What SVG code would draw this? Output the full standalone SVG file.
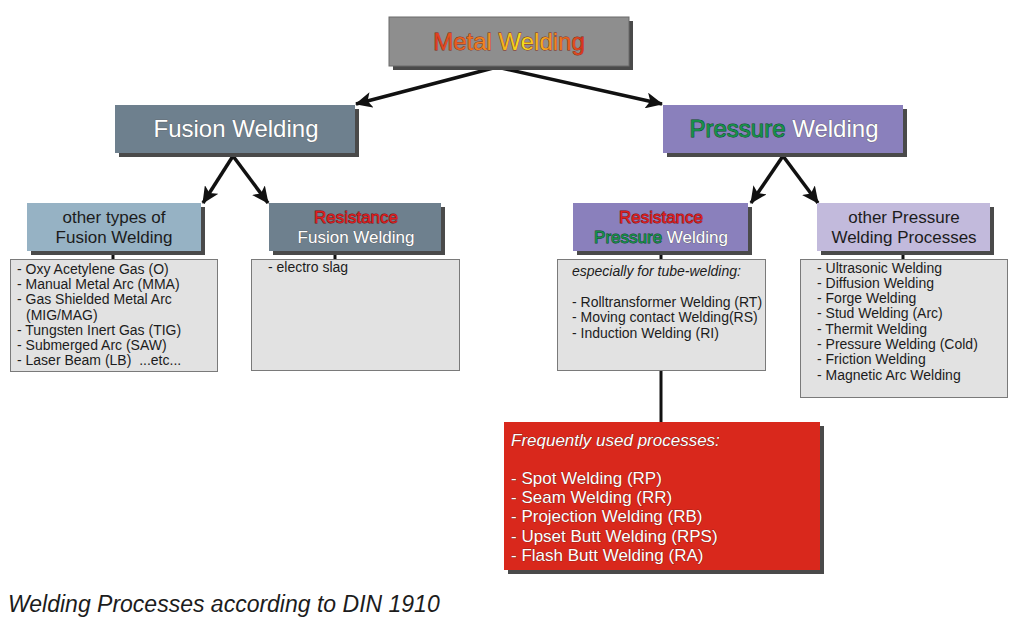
<svg xmlns="http://www.w3.org/2000/svg" width="1024" height="620" viewBox="0 0 1024 620">
<defs>
<linearGradient id="gMetal" x1="434" y1="0" x2="584" y2="0" gradientUnits="userSpaceOnUse">
<stop offset="0" stop-color="#e03a1e"/>
<stop offset="0.35" stop-color="#f08a20"/>
<stop offset="0.58" stop-color="#f4e21a"/>
<stop offset="0.8" stop-color="#f08a20"/>
<stop offset="1" stop-color="#d8301c"/>
</linearGradient>
<marker id="arr" markerUnits="userSpaceOnUse" markerWidth="18" markerHeight="16" refX="16" refY="8" orient="auto">
<path d="M0,0 L17,8 L0,16 L4,8 z" fill="#111"/>
</marker>
<style>
.sh{fill:#4a4a4a}
.hd{font-family:"Liberation Sans",Arial,sans-serif;font-size:24px;text-anchor:middle}
.md{font-family:"Liberation Sans",Arial,sans-serif;font-size:17px;text-anchor:middle}
.wt{fill:#fff;stroke:#5a5a5a;stroke-width:0.7;paint-order:stroke}
.rd{fill:#e01e1e;stroke:#7a1010;stroke-width:0.9;paint-order:stroke}
.gr{fill:#16914a;stroke:#0b4a25;stroke-width:0.9;paint-order:stroke}
.dk{fill:#1c1c1c}
.lb{fill:#e2e2e2;stroke:#7a7a7a;stroke-width:1}
.lt{font-family:"Liberation Sans",Arial,sans-serif;font-size:14px;fill:#1c1c1c}
.rt{font-family:"Liberation Sans",Arial,sans-serif;font-size:17px;fill:#fff;stroke:#6a1a10;stroke-width:0.6;paint-order:stroke}
.cn{stroke:#111;stroke-width:3;fill:none}
.ar{stroke:#111;stroke-width:3.5;fill:none;marker-end:url(#arr)}
</style>
</defs>
<rect width="1024" height="620" fill="#fff"/>

<g id="connectors">
<line class="ar" x1="497" y1="67" x2="356" y2="104"/>
<line class="ar" x1="497" y1="67" x2="662" y2="104"/>
<line class="ar" x1="233" y1="156" x2="203" y2="203"/>
<line class="ar" x1="233" y1="156" x2="268" y2="203"/>
<line class="ar" x1="783" y1="156" x2="751" y2="203"/>
<line class="ar" x1="783" y1="156" x2="818" y2="203"/>
<line class="cn" x1="113" y1="251" x2="113" y2="259"/>
<line class="cn" x1="335" y1="251" x2="335" y2="259"/>
<line class="cn" x1="661" y1="251" x2="661" y2="259"/>
<line class="cn" x1="661" y1="370" x2="661" y2="422"/>
<line class="cn" x1="903" y1="251" x2="903" y2="259"/>
</g>

<g id="metal-welding">
<rect class="sh" x="393" y="21" width="240" height="49"/>
<rect x="389" y="17" width="240" height="49" fill="#8e8e8e" stroke="#6a6a6a" stroke-width="1"/>
<text class="hd" x="509" y="50" fill="url(#gMetal)" stroke="#8a2a10" stroke-width="0.8" paint-order="stroke">Metal Welding</text>
</g>

<g id="fusion-welding">
<rect class="sh" x="119" y="109" width="240" height="48"/>
<rect x="115" y="105" width="240" height="48" fill="#6e808e"/>
<text class="hd wt" x="236" y="137">Fusion Welding</text>
</g>

<g id="pressure-welding">
<rect class="sh" x="667" y="109" width="240" height="48"/>
<rect x="663" y="105" width="240" height="48" fill="#8a80bc"/>
<text class="hd" x="784" y="137"><tspan class="gr">Pressure</tspan><tspan class="wt"> Welding</tspan></text>
</g>

<g id="other-fusion">
<rect class="sh" x="31" y="207" width="174" height="48"/>
<rect x="27" y="203" width="174" height="48" fill="#96b2c4"/>
<text class="md dk" x="114" y="223">other types of</text>
<text class="md dk" x="114" y="243">Fusion Welding</text>
</g>

<g id="resistance-fusion">
<rect class="sh" x="273" y="207" width="172" height="48"/>
<rect x="269" y="203" width="172" height="48" fill="#6e808e"/>
<text class="md rd" x="356" y="223">Resistance</text>
<text class="md wt" x="356" y="243">Fusion Welding</text>
</g>

<g id="resistance-pressure">
<rect class="sh" x="577" y="207" width="175" height="48"/>
<rect x="573" y="203" width="175" height="48" fill="#8a80bc"/>
<text class="md rd" x="661" y="223">Resistance</text>
<text class="md" x="661" y="243"><tspan class="gr">Pressure</tspan><tspan class="wt"> Welding</tspan></text>
</g>

<g id="other-pressure">
<rect class="sh" x="821" y="207" width="173" height="48"/>
<rect x="817" y="203" width="173" height="48" fill="#c2badc"/>
<text class="md dk" x="904" y="223">other Pressure</text>
<text class="md dk" x="904" y="243">Welding Processes</text>
</g>

<g id="list-fusion">
<rect class="lb" x="10.5" y="259.5" width="207" height="112"/>
<text class="lt" x="17" y="274">- Oxy Acetylene Gas (O)</text>
<text class="lt" x="17" y="289.2">- Manual Metal Arc (MMA)</text>
<text class="lt" x="17" y="304.4">- Gas Shielded Metal Arc</text>
<text class="lt" x="26" y="319.6">(MIG/MAG)</text>
<text class="lt" x="17" y="334.8">- Tungsten Inert Gas (TIG)</text>
<text class="lt" x="17" y="350">- Submerged Arc (SAW)</text>
<text class="lt" x="17" y="365.2" xml:space="preserve">- Laser Beam (LB)  ...etc...</text>
</g>

<g id="list-resistance-fusion">
<rect class="lb" x="251.5" y="259.5" width="208" height="111"/>
<text class="lt" x="268" y="272">- electro slag</text>
</g>

<g id="list-resistance-pressure">
<rect class="lb" x="557.5" y="259.5" width="208" height="111"/>
<text class="lt" x="572" y="276" font-style="italic">especially for tube-welding:</text>
<text class="lt" x="572" y="307">- Rolltransformer Welding (RT)</text>
<text class="lt" x="572" y="322.3">- Moving contact Welding(RS)</text>
<text class="lt" x="572" y="337.6">- Induction Welding (RI)</text>
</g>

<g id="list-other-pressure">
<rect class="lb" x="800.5" y="259.5" width="207" height="138"/>
<text class="lt" x="817" y="272.5">- Ultrasonic Welding</text>
<text class="lt" x="817" y="287.8">- Diffusion Welding</text>
<text class="lt" x="817" y="303.1">- Forge Welding</text>
<text class="lt" x="817" y="318.4">- Stud Welding (Arc)</text>
<text class="lt" x="817" y="333.7">- Thermit Welding</text>
<text class="lt" x="817" y="349">- Pressure Welding (Cold)</text>
<text class="lt" x="817" y="364.3">- Friction Welding</text>
<text class="lt" x="817" y="379.6">- Magnetic Arc Welding</text>
</g>

<g id="frequent-processes">
<rect class="sh" x="508" y="426" width="316" height="148"/>
<rect x="504" y="422" width="316" height="148" fill="#d9281c"/>
<text class="rt" x="511" y="446" font-style="italic">Frequently used processes:</text>
<text class="rt" x="511" y="484">- Spot Welding (RP)</text>
<text class="rt" x="511" y="503.2">- Seam Welding (RR)</text>
<text class="rt" x="511" y="522.4">- Projection Welding (RB)</text>
<text class="rt" x="511" y="541.6">- Upset Butt Welding (RPS)</text>
<text class="rt" x="511" y="560.8">- Flash Butt Welding (RA)</text>
</g>

<text x="8" y="612" font-family="'Liberation Sans',Arial,sans-serif" font-size="23" font-style="italic" fill="#1c1c1c">Welding Processes according to DIN 1910</text>
</svg>
